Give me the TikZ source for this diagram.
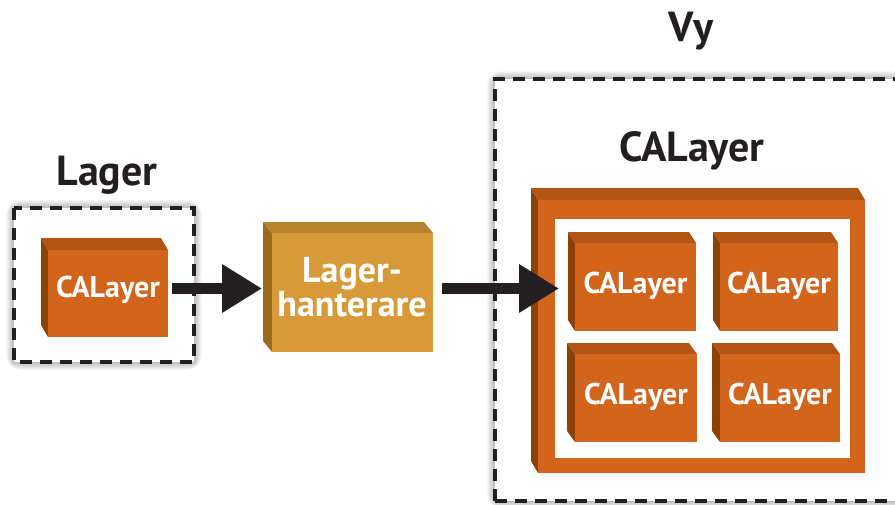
\documentclass[tikz,border=0pt]{standalone}
\usepackage{fontspec}
\setmainfont{PT Sans}
\usetikzlibrary{arrows.meta,calc}
\definecolor{ink}{HTML}{231F20}
\definecolor{orfront}{HTML}{D2641C}
\definecolor{ortop}{HTML}{B25514}
\definecolor{orside}{HTML}{8C4108}
\definecolor{gdfront}{HTML}{D89A38}
\definecolor{gdtop}{HTML}{B8832E}
\definecolor{gdside}{HTML}{9B6B20}
\tikzset{
  title/.style={text=ink, font=\fontsize{42}{46}\selectfont\bfseries, anchor=base, inner sep=0},
  wtext/.style={text=white, font=\fontsize{30}{32}\selectfont\bfseries, anchor=base, inner sep=0},
  midtext/.style={text=white, font=\fontsize{36}{30}\selectfont\bfseries, align=center, anchor=base, inner sep=0},
  dashbox/.style={draw=ink, line width=3.1pt, dash pattern=on 12pt off 8pt},
  bigarrow/.style={draw=ink, line width=11pt, -{Triangle[length=40pt,width=46pt]}},
}
\newcommand\cube[8]{%
  \fill[#8side] (#2,#3) -- (#2-#6,#3-#7) -- (#2-#6,#5-#7) -- (#2,#5) -- cycle;
  \fill[#8top] (#2,#3) -- (#2-#6,#3-#7) -- (#4-#6,#3-#7) -- (#4,#3) -- cycle;
  \node[fill=#8front, inner sep=0, outer sep=0, minimum width={(#4-#2)*1pt}, minimum height={(#5-#3)*1pt}, anchor=north west] (#1) at (#2,#3) {};
}
\newcommand\glowbox[4]{%
  \foreach \i in {1,...,10} {
    \draw[black, opacity=0.028, line width=\i*1.6pt, rounded corners=\i*0.8pt] (#1,#2) rectangle (#3,#4);
  }
  \fill[white] (#1,#2) rectangle (#3,#4);
}
\begin{document}
\begin{tikzpicture}[x=1pt,y=-1pt]
\useasboundingbox (0,0) rectangle (895,504);
\clip (0,0) rectangle (895,504);
\fill[white] (0,0) rectangle (895,504);

% left container
\glowbox{14}{208}{194}{362}
\node[title] (lagerlbl) at (107,185) {Lager};
\cube{lc}{48}{250}{168}{337}{7}{12}{or}
\node[wtext] (lctext) at (108,297) {CALayer};
\draw[dashbox] (14,208) rectangle (194,362);

% middle
\cube{mid}{272}{233}{433}{352}{9}{11}{gd}
\node[midtext] (midtext) at (352,316) {Lager-\\hanterare};

% right container
\glowbox{495}{79}{930}{501}
\node[title] (vylbl) at (691,41) {Vy};
\node[title] (callbl) at (692,161) {CALayer};
\cube{frame}{538}{200}{865}{473}{7}{12}{or}
\node[fill=white, inner sep=0, outer sep=0, minimum width=295pt, minimum height=239pt, anchor=north west] (inner) at (555,219) {};
\cube{c1}{575}{243}{696}{331}{7}{11}{or}
\cube{c2}{720}{243}{838}{331}{7}{11}{or}
\cube{c3}{575}{354}{697}{442}{8}{11}{or}
\cube{c4}{720}{354}{840}{442}{8}{11}{or}
\node[wtext] (t1) at (635.5,293) {CALayer};
\node[wtext] (t2) at (779,293) {CALayer};
\node[wtext] (t3) at (636,404) {CALayer};
\node[wtext] (t4) at (780,404) {CALayer};
\draw[dashbox] (495,501) -- (495,79) -- (930,79);
\draw[dashbox] (495,501) -- (930,501);

% arrows
\coordinate (a1s) at ($(lc.east)+(4pt,5pt)$);
\coordinate (a1e) at ($(mid.west)+(-10pt,4pt)$);
\draw[bigarrow] (a1s) -- (a1e);
\coordinate (a2s) at ($(mid.east)+(9pt,4pt)$);
\coordinate (a2e) at ($(mid.east -| inner.west)+(4pt,4pt)$);
\draw[bigarrow] (a2s) -- (a2e);
\end{tikzpicture}
\end{document}
